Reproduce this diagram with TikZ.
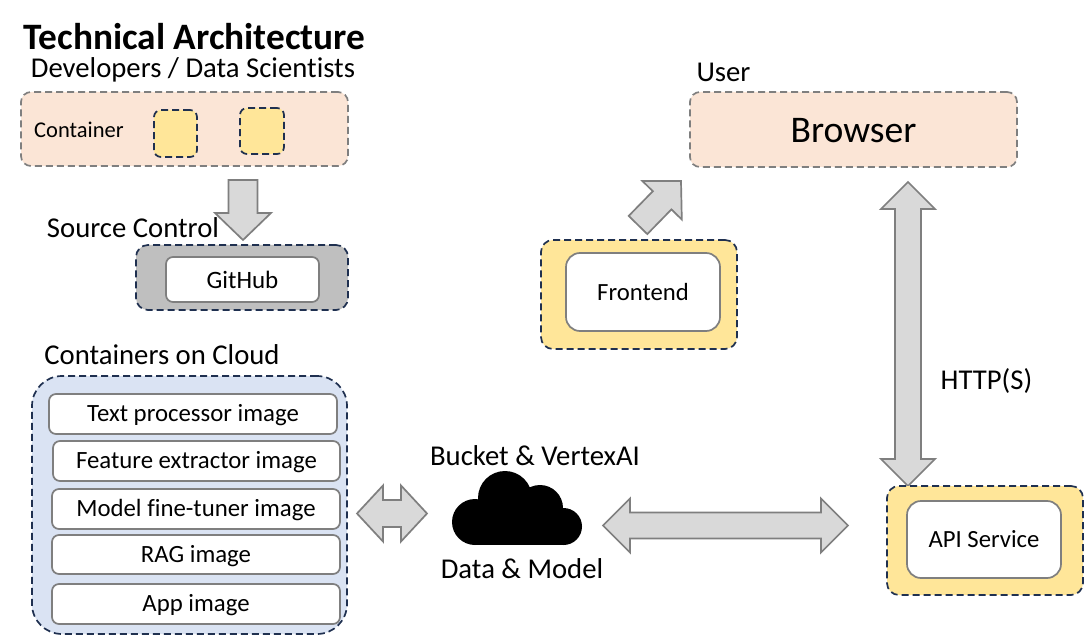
\documentclass[tikz,border=0pt]{standalone}
\usepackage{fontspec}
\setmainfont{Carlito}[Ligatures=NoCommon]
\usetikzlibrary{calc}
\definecolor{peach}{HTML}{FBE5D6}
\definecolor{butter}{HTML}{FFE699}
\definecolor{skyfill}{HTML}{DAE3F3}
\definecolor{navy}{HTML}{1F3050}
\definecolor{edgegray}{HTML}{7F7F7F}
\definecolor{arrowfill}{HTML}{D9D9D9}
\definecolor{panelgray}{HTML}{BFBFBF}
\tikzset{
  x=1pt,y=-1pt,
  panel/.style={rounded corners=#1,inner sep=0pt,line width=1.7pt,dash pattern=on 7pt off 4pt},
  peachbox/.style={panel=10pt,fill=peach,draw=edgegray},
  yellowbox/.style={panel=12pt,fill=butter,draw=navy},
  chip/.style={panel=7pt,fill=butter,draw=navy},
  graypanel/.style={panel=12pt,fill=panelgray,draw=navy},
  bluepanel/.style={panel=30pt,fill=skyfill,draw=navy},
  whitebox/.style={rounded corners=#1,fill=white,draw=edgegray,line width=1.7pt,inner sep=0pt,text=black},
  whitebox/.default=8pt,
  label/.style={inner sep=0pt,text=black,font=\fontsize{#1}{#1}\selectfont},
  blockarrow/.style={fill=arrowfill,draw=edgegray,line width=1.7pt,line join=miter},
}
% box by centre and size
\newcommand{\boxat}[6]{\node[#1,minimum width=#5 pt,minimum height=#6 pt] (#2) at (#3,#4)}
\newcommand{\onearrow}[5]{%
  \coordinate (hh) at ($(#2)!#5!(#1)$);
  \draw[blockarrow] ($(#1)!#3!90:(#2)$) -- ($(hh)!#3!90:(#2)$) -- ($(hh)!#4!90:(#2)$) -- (#2)
    -- ($(hh)!#4!-90:(#2)$) -- ($(hh)!#3!-90:(#2)$) -- ($(#1)!#3!-90:(#2)$) -- cycle;}
\newcommand{\twoarrow}[5]{%
  \coordinate (ha) at ($(#1)!#5!(#2)$);
  \coordinate (hb) at ($(#2)!#5!(#1)$);
  \draw[blockarrow] (#1) -- ($(ha)!#4!90:(#2)$) -- ($(ha)!#3!90:(#2)$) -- ($(hb)!#3!90:(#2)$) -- ($(hb)!#4!90:(#2)$) -- (#2)
    -- ($(hb)!#4!-90:(#2)$) -- ($(hb)!#3!-90:(#2)$) -- ($(ha)!#3!-90:(#2)$) -- ($(ha)!#4!-90:(#2)$) -- cycle;}
\begin{document}
\begin{tikzpicture}
\useasboundingbox[fill=white] (0,0) rectangle (1084,636);

% free ends of the block arrows
\coordinate (devStart) at (243,180);
\coordinate (devEnd) at (243,240);
\coordinate (feStart) at (638,225);
\coordinate (feEnd) at (681,181);
\coordinate (httpTop) at (908,182);
\coordinate (httpBottom) at (908,486);
\coordinate (imgEnd) at (357,513.5);
\coordinate (cloudLeft) at (427,513.5);
\coordinate (cloudRight) at (603,525.5);
\coordinate (apiLeft) at (848,525.5);

\onearrow{feStart}{feEnd}{13pt}{27.5pt}{27pt}
\twoarrow{httpTop}{httpBottom}{13pt}{27pt}{27pt}
\twoarrow{imgEnd}{cloudLeft}{13.5pt}{28pt}{26pt}
\twoarrow{cloudRight}{apiLeft}{13pt}{27pt}{27pt}

% title and headings
\node[label=37,font=\fontsize{37.3}{37}\selectfont\bfseries] (title) at (194.5,37) {Technical Architecture};
\node[label=28.7] (devs) at (193,69.5) {Developers / Data Scientists};
\node[label=28.7] (src) at (133,228) {Source Control};
\node[label=28.7] (cloudtitle) at (162,355) {Containers on Cloud};
\node[label=28.7] (user) at (723.5,72) {User};
\node[label=28.7] (https) at (986.5,380.5) {HTTP(S)};
\node[label=28.7] (bucket) at (535,456) {Bucket \& VertexAI};
\node[label=28.7] (datamodel) at (522,569) {Data \& Model};

% developers
\boxat{peachbox}{devbox}{184.5}{129}{327}{74} {};
\node[label=22.5] (container) at (79,130) {Container};
\boxat{chip}{chipa}{175.5}{133.5}{43}{47} {};
\boxat{chip}{chipb}{262}{131}{44}{46} {};

% github
\boxat{graypanel}{gitpanel}{242}{277.5}{212}{65} {};
\boxat{whitebox=7pt,font=\fontsize{25}{25}\selectfont}{github}{242.5}{279.5}{153}{45} {GitHub};
\onearrow{devStart}{devEnd}{14.5pt}{28pt}{27pt}

% browser
\boxat{peachbox,font=\fontsize{37.6}{37.6}\selectfont,text=black,text height=26pt,text depth=0pt}{browser}{853.5}{129.5}{327}{75} {Browser};

% frontend
\boxat{yellowbox}{fepanel}{639}{294.5}{196}{109} {};
\boxat{whitebox=14pt,font=\fontsize{24.7}{24.7}\selectfont}{frontend}{643}{292}{154}{78} {Frontend};

% API
\boxat{yellowbox}{apipanel}{985}{540.5}{196}{109} {};
\boxat{whitebox=14pt,font=\fontsize{24.7}{24.7}\selectfont}{api}{984}{539.5}{154}{77} {API Service};

% cloud containers
\boxat{bluepanel}{cloudpanel}{189.5}{505}{315}{258} {};
\tikzset{imgbox/.style={whitebox=7pt,font=\fontsize{24.8}{24.8}\selectfont,text height=19.5pt,text depth=4.5pt}}
\boxat{imgbox}{imga}{193}{414}{288}{40} {Text processor image};
\boxat{imgbox}{imgb}{196.5}{461}{287}{40} {Feature extractor image};
\boxat{imgbox}{imgc}{196}{509}{288}{40} {Model fine-tuner image};
\boxat{imgbox}{imgd}{196}{554.5}{288}{39} {RAG image};
\boxat{imgbox}{imge}{196}{604}{288}{40} {App image};

% cloud icon
\fill[black] (475,522) circle (23);
\fill[black] (505,498) circle (27);
\fill[black] (540,508) circle (23);
\fill[black] (563.5,526.5) circle (18.5);
\fill[black] (475,510) rectangle (563.5,545);
\end{tikzpicture}
\end{document}
